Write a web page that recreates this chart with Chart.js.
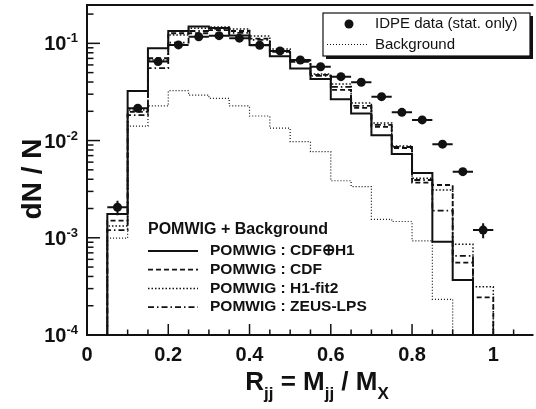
<!DOCTYPE html>
<html lang="en">
<head>
<meta charset="UTF-8">
<title>R_jj distribution</title>
<script src="https://cdn.jsdelivr.net/npm/chart.js@4.4.0/dist/chart.umd.min.js"></script>
<style>
  html, body { margin: 0; padding: 0; background: #fff; }
  #wrap { width: 536px; height: 409px; }
</style>
</head>
<body>
<div id="wrap"><canvas id="rjjChart" width="536" height="409"></canvas></div>
<script>
// histogram bin edges in R_jj (bin width 0.05)
const binEdges = [0.05, 0.10, 0.15, 0.20, 0.25, 0.30, 0.35, 0.40, 0.45, 0.50,
                  0.55, 0.60, 0.65, 0.70, 0.75, 0.80, 0.85, 0.90, 0.95, 1.00];

// IDPE data points (bin centres), stat. errors
const dataCenters = [0.075, 0.125, 0.175, 0.225, 0.275, 0.325, 0.375, 0.425, 0.475, 0.525,
                     0.575, 0.625, 0.675, 0.725, 0.775, 0.825, 0.875, 0.925, 0.975];
const idpeValues = [0.00206, 0.0215, 0.0649, 0.0964, 0.117, 0.120, 0.113, 0.0955, 0.0836, 0.0674,
                    0.0575, 0.0454, 0.0398, 0.0283, 0.0195, 0.0163, 0.00919, 0.00479, 0.00120];
const idpeErrors = [0.00035, 0.0009, 0.0016, 0.002, 0.0022, 0.0022, 0.0021, 0.0019, 0.0018, 0.0016,
                    0.0015, 0.0013, 0.0012, 0.001, 0.0008, 0.0008, 0.0006, 0.0004, 0.00021];

// POMWIG + background predictions, one value per bin
const cdfH1Hist = [0.00176, 0.0324, 0.0889, 0.134, 0.149, 0.144, 0.1205, 0.0964, 0.0736, 0.0550,
                   0.0431, 0.0266, 0.0190, 0.01133, 0.00728, 0.00465, 0.000912, 0.000368, 0];
const cdfHist = [0.00150, 0.0197, 0.0703, 0.127, 0.127, 0.137, 0.134, 0.112, 0.0835, 0.0659,
                 0.0473, 0.0332, 0.0217, 0.0138, 0.00839, 0.00369, 0.00349, 0.000554, 0.000244];
const h1fit2Hist = [0.00132, 0.0206, 0.0675, 0.122, 0.143, 0.1475, 0.1406, 0.1192, 0.0876, 0.0675,
                    0.0484, 0.0382, 0.0244, 0.0152, 0.0088, 0.00409, 0.0031, 0.000857, 0.000314];
const zeusHist = [0.00120, 0.0183, 0.0555, 0.1016, 0.134, 0.1406, 0.128, 0.1084, 0.0816, 0.0644,
                  0.0462, 0.0356, 0.0227, 0.01447, 0.00859, 0.00393, 0.0019, 0.00065, 0];
const backgroundHist = [0.00099, 0.0141, 0.0227, 0.0326, 0.0294, 0.0272, 0.0227, 0.0179, 0.0134, 0.00975,
                        0.00769, 0.00386, 0.00336, 0.00155, 0.00147, 0.00093, 0.000233, 0, 0];

// axis tick labels
const xTickLabels = ['0', '0.2', '0.4', '0.6', '0.8', '1'];
const yDecades = [-4, -3, -2, -1];

const FONT = '"Liberation Sans", Arial, Helvetica, sans-serif';
const INK = '#111';
const FLOOR = 1e-6;   // zero bins are pushed below the axis minimum
const HALF_BIN = 0.025;

// step outline of a histogram: points at left bin edges, drawn with stepped lines
function histPoints(values) {
  const pts = [{x: binEdges[0], y: FLOOR}];
  values.forEach((v, i) => pts.push({x: binEdges[i], y: v > 0 ? v : FLOOR}));
  const last = values[values.length - 1];
  pts.push({x: binEdges[binEdges.length - 1], y: last > 0 ? last : FLOOR});
  pts.push({x: binEdges[binEdges.length - 1], y: FLOOR});
  return pts;
}

function histDataset(values, dash, width, order) {
  return {
    data: histPoints(values),
    stepped: true,
    borderColor: INK,
    borderWidth: width,
    borderDash: dash,
    pointRadius: 0,
    fill: false,
    order: order
  };
}

// error bars as broken line segments
const xErrBars = [];
const yErrBars = [];
dataCenters.forEach((c, i) => {
  xErrBars.push({x: c - HALF_BIN, y: idpeValues[i]}, {x: c + HALF_BIN, y: idpeValues[i]}, {x: c, y: null});
  yErrBars.push({x: c, y: idpeValues[i] - idpeErrors[i]}, {x: c, y: idpeValues[i] + idpeErrors[i]}, {x: c, y: null});
});

// legend entries for the bottom-left block
const pomwigLegend = [
  {label: 'POMWIG : CDF\u2295H1', dash: [], width: 2},
  {label: 'POMWIG : CDF', dash: [5, 3], width: 1.8},
  {label: 'POMWIG : H1-fit2', dash: [1.5, 2], width: 1.5},
  {label: 'POMWIG : ZEUS-LPS', dash: [6, 3, 1.5, 3], width: 1.8}
];

function strokeLine(ctx, x1, y1, x2, y2) {
  ctx.beginPath();
  ctx.moveTo(x1, y1);
  ctx.lineTo(x2, y2);
  ctx.stroke();
}

// frame, inward ticks, superscript y labels, axis titles and legends
const decorations = {
  id: 'decorations',
  afterDatasetsDraw(chart) {
    const {ctx, chartArea: a, scales: {x, y}} = chart;
    ctx.save();
    ctx.strokeStyle = INK;
    ctx.fillStyle = INK;
    ctx.setLineDash([]);

    // x ticks, every 0.05, long ones every 0.2
    ctx.lineWidth = 1.5;
    for (let k = 0; k * 0.05 <= x.max; k++) {
      const px = x.getPixelForValue(k * 0.05);
      strokeLine(ctx, px, a.bottom, px, a.bottom - (k % 4 === 0 ? 11 : 5.5));
    }
    // y ticks, decades long
    yDecades.forEach(d => {
      for (let m = 1; m <= 9; m++) {
        const v = m * Math.pow(10, d);
        if (v > y.max) break;
        const py = y.getPixelForValue(v);
        strokeLine(ctx, a.left, py, a.left + (m === 1 ? 13 : 6.5), py);
      }
    });

    // frame (right side is outside the picture)
    ctx.lineWidth = 2;
    ctx.beginPath();
    ctx.moveTo(a.right + 2, a.top);
    ctx.lineTo(a.left, a.top);
    ctx.lineTo(a.left, a.bottom);
    ctx.lineTo(a.right + 2, a.bottom);
    ctx.stroke();

    // y tick labels 10^d
    ctx.textAlign = 'left';
    ctx.textBaseline = 'alphabetic';
    yDecades.forEach(d => {
      const py = y.getPixelForValue(Math.pow(10, d));
      const exp = String(d);
      ctx.font = 'bold 13px ' + FONT;
      const ew = ctx.measureText(exp).width;
      ctx.font = 'bold 20px ' + FONT;
      const bw = ctx.measureText('10').width;
      const right = 78;
      ctx.fillText('10', right - ew - bw, py + 7);
      ctx.font = 'bold 13px ' + FONT;
      ctx.fillText(exp, right - ew, py - 1);
    });

    // y title
    ctx.save();
    ctx.translate(41, 179);
    ctx.rotate(-Math.PI / 2);
    ctx.textAlign = 'center';
    ctx.font = 'bold 28px ' + FONT;
    ctx.fillText('dN / N', 0, 0);
    ctx.restore();

    // x title with subscripts
    const parts = [['R', 0], ['jj', 1], [' = M', 0], ['jj', 1], [' / M', 0], ['X', 1]];
    const fontFor = sub => sub ? 'bold 17px ' + FONT : 'bold 26px ' + FONT;
    let total = 0;
    parts.forEach(p => { ctx.font = fontFor(p[1]); total += ctx.measureText(p[0]).width; });
    let tx = 317 - total / 2;
    parts.forEach(p => {
      ctx.font = fontFor(p[1]);
      ctx.fillText(p[0], tx, p[1] ? 399 : 390);
      tx += ctx.measureText(p[0]).width;
    });

    // top-right legend box with shadow
    const bx = 323, by = 13, bw2 = 207, bh = 43;
    ctx.fillRect(bx + 3, by + 3, bw2, bh);
    ctx.fillStyle = '#fff';
    ctx.fillRect(bx, by, bw2, bh);
    ctx.fillStyle = INK;
    ctx.lineWidth = 1.2;
    ctx.strokeRect(bx, by, bw2, bh);
    ctx.beginPath();
    ctx.arc(349, 24, 4.5, 0, Math.PI * 2);
    ctx.fill();
    ctx.setLineDash([1, 2]);
    ctx.lineWidth = 1.2;
    strokeLine(ctx, 327, 44.5, 367, 44.5);
    ctx.setLineDash([]);
    ctx.font = '15px ' + FONT;
    ctx.textBaseline = 'middle';
    ctx.fillText('IDPE data (stat. only)', 375, 24);
    ctx.fillText('Background', 375, 44.5);

    // bottom-left POMWIG legend
    ctx.font = 'bold 16px ' + FONT;
    ctx.fillText('POMWIG + Background', 148, 230);
    pomwigLegend.forEach((e, i) => {
      const ly = 251 + i * 18.7;
      ctx.setLineDash(e.dash);
      ctx.lineWidth = e.width;
      strokeLine(ctx, 148, ly, 198, ly);
      ctx.setLineDash([]);
      ctx.font = 'bold 15.5px ' + FONT;
      ctx.fillText(e.label, 210, ly);
    });
    ctx.restore();
  }
};

new Chart(document.getElementById('rjjChart'), {
  type: 'line',
  data: {
    datasets: [
      {
        data: dataCenters.map((c, i) => ({x: c, y: idpeValues[i]})),
        showLine: false,
        pointRadius: 4.5,
        pointBorderWidth: 0,
        pointBackgroundColor: INK,
        order: 0
      },
      {data: xErrBars, borderColor: INK, borderWidth: 2, pointRadius: 0, spanGaps: false, order: 1},
      {data: yErrBars, borderColor: INK, borderWidth: 2, pointRadius: 0, spanGaps: false, order: 1},
      histDataset(cdfH1Hist, [], 2, 2),
      histDataset(cdfHist, [5, 3], 1.8, 3),
      histDataset(h1fit2Hist, [1.5, 2], 1.5, 4),
      histDataset(zeusHist, [6, 3, 1.5, 3], 1.8, 5),
      histDataset(backgroundHist, [1, 2], 1.2, 6)
    ]
  },
  options: {
    responsive: false,
    animation: false,
    layout: {padding: {left: 87, top: 5, right: 0, bottom: 0}},
    plugins: {legend: {display: false}, tooltip: {enabled: false}},
    scales: {
      x: {
        type: 'linear',
        min: 0,
        max: 1.094,
        grid: {display: false},
        border: {display: false},
        ticks: {
          stepSize: 0.2,
          includeBounds: false,
          maxRotation: 0,
          padding: 0,
          color: INK,
          font: {family: FONT, weight: 'bold', size: 20},
          callback: v => xTickLabels[Math.round(v / 0.2)]
        },
        afterFit: axis => { axis.height = 74; }
      },
      y: {
        type: 'logarithmic',
        min: 1e-4,
        max: 0.248,
        grid: {display: false},
        border: {display: false},
        ticks: {display: false},
        afterFit: axis => { axis.width = 0; }
      }
    }
  },
  plugins: [decorations]
});
</script>
</body>
</html>
